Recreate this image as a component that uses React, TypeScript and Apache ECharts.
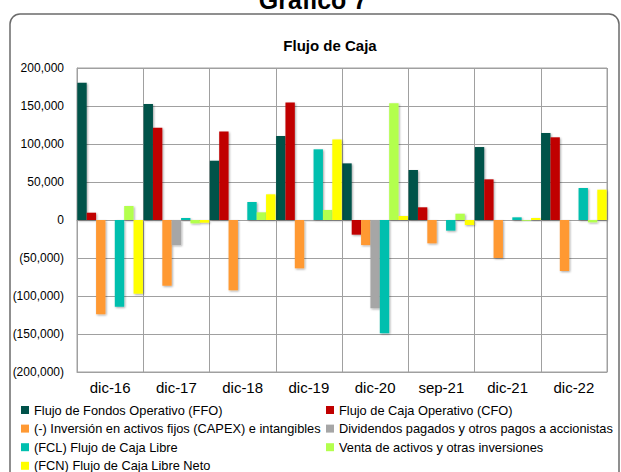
import React, { useEffect, useRef } from "react";
import * as echarts from "echarts";

const categories = ["dic-16", "dic-17", "dic-18", "dic-19", "dic-20", "sep-21", "dic-21", "dic-22"];
const seriesNames = [
  "Flujo de Fondos Operativo (FFO)",
  "Flujo de Caja Operativo (CFO)",
  "(-) Inversión en activos fijos (CAPEX) e intangibles",
  "Dividendos pagados y otros pagos a accionistas",
  "(FCL) Flujo de Caja Libre",
  "Venta de activos y otras inversiones",
  "(FCN) Flujo de Caja Libre Neto",
];
const ffo = [180500, 152500, 78000, 110500, 74500, 65800, 96000, 114500];
const cfo = [9600, 121500, 116500, 154500, -19300, 16700, 53500, 108800];
const capex = [-124000, -86500, -92500, -63600, -33000, -30700, -50000, -67100];
const dividendos = [0, -33000, 0, -1000, -116200, 0, 0, 0];
const fcl = [-114000, 2600, 23700, 93000, -149100, -14000, 3500, 42100];
const venta = [18400, -4400, 10100, 13200, 153500, 8300, -1000, -3100];
const fcn = [-97000, -3500, 33800, 106000, 5300, -6600, 2600, 39900];
const seriesValues = [ffo, cfo, capex, dividendos, fcl, venta, fcn];
const colors = ["#00524A", "#C00000", "#FF9933", "#A6A6A6", "#00BFAE", "#B3FF4D", "#FFFF00"];
const yTicks = { min: -200000, max: 200000, interval: 50000 };

const FONT = "Liberation Sans";

function fmt(v: number): string {
  const s = Math.abs(v).toLocaleString("en-US");
  return v < 0 ? "(" + s + ")" : s;
}

export default function App() {
  const ref = useRef<HTMLDivElement>(null);
  useEffect(() => {
    if (!ref.current) return;
    const chart = echarts.init(ref.current, undefined, { renderer: "svg" });
    const legendText = { fontFamily: FONT, fontSize: 12.8, color: "#000", lineHeight: 14 };
    const legendBase = {
      orient: "vertical",
      top: 403,
      height: 90,
      padding: 0,
      itemWidth: 8,
      itemHeight: 8,
      itemGap: 4.6,
      icon: "rect",
      textStyle: legendText,
    };
    chart.setOption({
      animation: false,
      backgroundColor: "#fff",
      graphic: [
        {
          type: "rect",
          shape: { x: 10, y: 14, width: 609, height: 500, r: 10 },
          style: { fill: "none", stroke: "#6b6b6b", lineWidth: 1.5 },
          silent: true,
        },
        {
          type: "text",
          x: 313,
          y: 12,
          style: {
            text: "Gráfico 7",
            font: "bold 25px " + FONT,
            fill: "#000",
            textAlign: "center",
            textVerticalAlign: "bottom",
          },
        },
      ],
      title: {
        text: "Flujo de Caja",
        left: 325,
        top: 33,
        textAlign: "center",
        textStyle: { fontFamily: FONT, fontSize: 15, fontWeight: "bold", color: "#000" },
      },
      legend: [
        {
          ...legendBase,
          left: 21,
          data: [seriesNames[0], seriesNames[2], seriesNames[4], seriesNames[6]],
        },
        {
          ...legendBase,
          left: 326,
          data: [seriesNames[1], seriesNames[3], seriesNames[5]],
        },
      ],
      grid: {
        left: 77,
        right: 14,
        top: 68,
        bottom: 100,
        show: true,
        borderColor: "#A0A0A0",
        borderWidth: 1,
      },
      xAxis: [
        {
          type: "category",
          data: categories,
          position: "bottom",
          axisLine: { onZero: false, lineStyle: { color: "#A0A0A0" } },
          axisTick: { show: false },
          axisLabel: { fontFamily: FONT, fontSize: 15, color: "#000", margin: 8 },
          splitLine: { show: true, lineStyle: { color: "#A0A0A0", width: 1 } },
        },
        {
          type: "category",
          data: categories,
          position: "bottom",
          axisLine: { onZero: true, lineStyle: { color: "#A0A0A0" } },
          axisTick: { show: true, length: 3, lineStyle: { color: "#A0A0A0" } },
          axisLabel: { show: false },
          splitLine: { show: false },
        },
      ],
      yAxis: {
        type: "value",
        min: yTicks.min,
        max: yTicks.max,
        interval: yTicks.interval,
        axisLine: { show: true, lineStyle: { color: "#A0A0A0" } },
        axisTick: { show: false },
        axisLabel: {
          fontFamily: FONT,
          fontSize: 12,
          color: "#000",
          margin: 13,
          formatter: (v: number) => fmt(v),
        },
        splitLine: { show: true, lineStyle: { color: "#A0A0A0", width: 1 } },
      },
      series: seriesNames.map((name, i) => ({
        name,
        type: "bar",
        xAxisIndex: 0,
        data: seriesValues[i],
        barGap: "0%",
        barCategoryGap: "1%",
        itemStyle: {
          color: colors[i],
          shadowColor: "rgba(0,0,0,0.35)",
          shadowBlur: 2,
          shadowOffsetX: 1,
          shadowOffsetY: 1,
        },
      })),
    });
    return () => chart.dispose();
  }, []);
  return (
    <div
      ref={ref}
      style={{ position: "fixed", left: 0, top: 0, width: 621, height: 472 }}
    />
  );
}
